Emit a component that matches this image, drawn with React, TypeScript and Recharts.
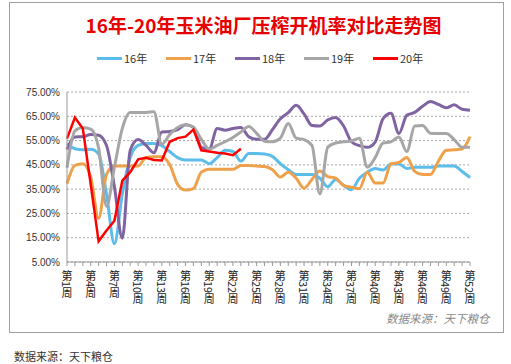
import React from "react";
import {
  LineChart,
  Line,
  XAxis,
  YAxis,
  CartesianGrid,
  Legend,
} from "recharts";

const weeks = Array.from({ length: 52 }, (_, i) => `第${i + 1}周`);

const y16 = [
  53.7, 51.6, 51.2, 51.4, 49.5, 33, 12.5, 33, 48, 53,
  53.8, 53.8, 52.9, 50.5, 48, 47, 47, 47, 45.5, 48,
  51, 50.5, 46.5, 49.7, 49.7, 49.5, 48.5, 45.5, 43, 41,
  41, 41, 39.5, 36, 39, 36.6, 34.8, 39.5, 42, 43.5,
  42.9, 45.4, 45.4, 43.5, 44, 44, 44, 44.5, 44.5, 44.5,
  42.3, 39.8,
];
const y17 = [
  37.3, 44.8, 45.5, 40, 23, 41, 44.5, 44.5, 44.5, 44.5,
  48, 48.3, 48.3, 45, 37, 34.6, 35.2, 42, 43.2, 43.2,
  43.2, 43.2, 44.7, 44.7, 44.5, 44.3, 43, 40, 42, 39.5,
  35.4, 39, 42.5, 40.2, 39.5, 36.5, 35.8, 35.2, 42, 37.5,
  37.5, 45.4, 46, 48, 42.3, 41, 41, 46.5, 51, 51.2,
  51.5, 56.6,
];
const y18 = [
  51.3, 56.5, 56.6, 57.5, 57.2, 53, 36, 14.8, 51, 55.4,
  53, 50, 58.5, 58.7, 59.5, 61.5, 60.5, 52.2, 51.5, 60,
  59.3, 60, 60.4, 56.6, 55.5, 55.5, 59.5, 64, 66.5, 69.5,
  66, 61.2, 61, 63.5, 64.5, 61, 54.5, 52.9, 52.2, 54.4,
  64, 66.2, 57.9, 65.4, 66.6, 69.1, 71.1, 69.9, 68.5, 69.7,
  67.9, 67.5,
];
const y19 = [
  43.8, 59, 60.4, 59.7, 52, 28, 44, 60, 66.6, 66.6,
  66.6, 66.9, 53.5, 57.5, 60.4, 61.5, 60.5, 55.5, 51.5, 53,
  54.5, 56.3, 58.5, 60.8, 58, 54.75, 54.5, 56, 62, 56,
  55.4, 53, 33, 52.3, 54, 54.5, 54.8, 56, 44, 48,
  54, 54.5, 56.5, 50.5, 61, 61.2, 58, 57.9, 57.9, 55.4,
  52.3, 52.3,
];
const y20 = [
  55.8, 64.5, 60, 37, 13.5, 18, 22, 38.5, 42, 47.3,
  47.9, 47, 46.8, 54.5, 56, 56.6, 59.5, 51, 50.5, 50,
  49.7, 49, 51.6,
];

const yTicks = [5, 15, 25, 35, 45, 55, 65, 75];

const series = [
  { key: "s16", name: "16年", color: "#5cbcea", values: y16 },
  { key: "s17", name: "17年", color: "#eea04a", values: y17 },
  { key: "s18", name: "18年", color: "#8064a2", values: y18 },
  { key: "s19", name: "19年", color: "#a6a6a6", values: y19 },
  { key: "s20", name: "20年", color: "#ff0000", values: y20 },
];

const data = weeks.map((w, i) => {
  const row: any = { week: w };
  series.forEach((s) => {
    row[s.key] = i < s.values.length ? s.values[i] : null;
  });
  return row;
});

const cjk = "'Noto Sans CJK SC', 'Noto Sans', sans-serif";

function WeekTick(props: any) {
  const { x, y, payload, index } = props;
  if (index % 3 !== 0) return <g />;
  return (
    <text
      x={x}
      y={y + 2}
      fontSize={11}
      fill="#222"
      fontFamily={cjk}
      style={{ writingMode: "vertical-rl" } as any}
    >
      {payload.value}
    </text>
  );
}

function LegendBox() {
  return (
    <div style={{ display: "flex", paddingLeft: 97, fontFamily: cjk, fontSize: 11, color: "#333" }}>
      {series.map((s) => (
        <div key={s.key} style={{ width: 69, display: "flex", alignItems: "center" }}>
          <span style={{ display: "inline-block", width: 25, height: 3, background: s.color, marginRight: 2 }} />
          <span>{s.name}</span>
        </div>
      ))}
    </div>
  );
}

export default function App() {
  return (
    <div style={{ position: "absolute", left: 0, top: 0, width: 511, height: 364, background: "#fff", overflow: "hidden" }}>
      <div
        style={{
          position: "absolute",
          left: 9,
          top: 2,
          width: 493,
          height: 329,
          border: "1px solid #a0a0a0",
        }}
      />
      <div
        style={{
          position: "absolute",
          left: 0,
          top: 13,
          width: 527,
          textAlign: "center",
          color: "#e80000",
          fontFamily: cjk,
          fontWeight: 700,
          fontSize: 19,
          lineHeight: "24px",
        }}
      >
        16年-20年玉米油厂压榨开机率对比走势图
      </div>
      <div style={{ position: "absolute", left: 0, top: 0 }}>
        <LineChart width={511} height={364} data={data} margin={{ top: 76, right: 41, bottom: 62, left: 0 }}>
          <CartesianGrid vertical={false} stroke="#a8a8a8" strokeDasharray="2 2" />
          <XAxis
            dataKey="week"
            interval={0}
            tick={<WeekTick />}
            tickSize={4}
            tickLine={{ stroke: "#999" }}
            axisLine={{ stroke: "#999" }}
            height={40}
          />
          <YAxis
            domain={[5, 75]}
            ticks={yTicks}
            width={67}
            tickSize={0}
            tickMargin={7}
            tickLine={false}
            axisLine={{ stroke: "#999" }}
            tickFormatter={(v: number) => `${v.toFixed(2)}%`}
            tick={{ fontSize: 10, fill: "#333", fontFamily: "'Liberation Sans', Arial, sans-serif" }}
          />
          <Legend
            verticalAlign="top"
            content={() => <LegendBox />}
            wrapperStyle={{ position: "absolute", top: 50, left: 0, width: 511 }}
          />
          {series.map((s) => (
            <Line
              key={s.key}
              dataKey={s.key}
              name={s.name}
              type={s.key === "s20" ? "linear" : "monotone"}
              stroke={s.color}
              strokeWidth={s.key === "s20" ? 2.5 : 3}
              dot={false}
              activeDot={false}
              connectNulls={false}
              isAnimationActive={false}
            />
          ))}
        </LineChart>
      </div>
      <div
        style={{
          position: "absolute",
          left: 386,
          top: 310,
          fontFamily: cjk,
          fontSize: 11.5,
          fontStyle: "italic",
          color: "#888",
        }}
      >
        数据来源：天下粮仓
      </div>
      <div
        style={{
          position: "absolute",
          left: 14,
          top: 350,
          fontFamily: cjk,
          fontSize: 11,
          lineHeight: "13px",
          color: "#333",
        }}
      >
        数据来源：天下粮仓
      </div>
    </div>
  );
}
